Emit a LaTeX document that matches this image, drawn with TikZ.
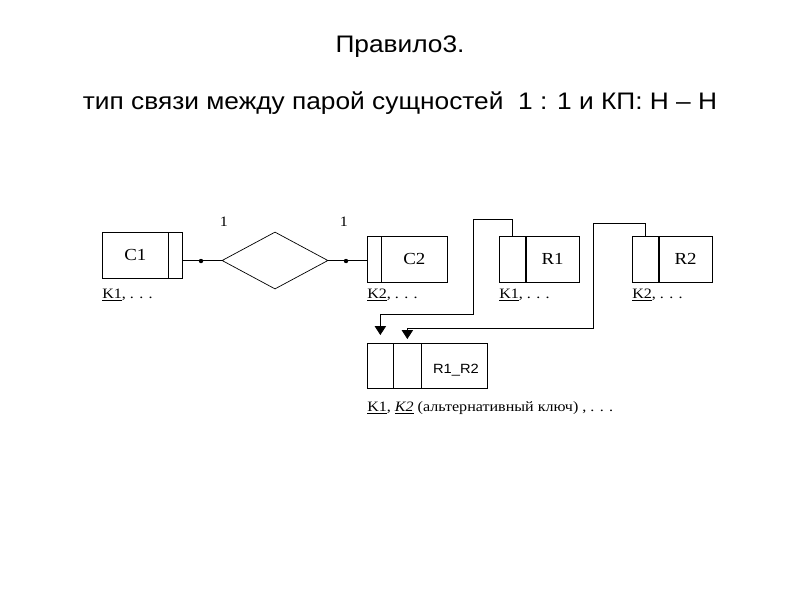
\documentclass[tikz,border=0pt]{standalone}
\usepackage{fontspec}
\setmainfont[FakeStretch=1.12]{Liberation Serif}
\newfontfamily\headfont[FakeStretch=1.1]{Liberation Sans}
\usetikzlibrary{arrows.meta,shapes.geometric}
\tikzstyle{Part}=[draw=black, shape=rectangle, inner sep=0pt, anchor=north west, minimum height=1.15cm, line width=0.5pt, font=\fontsize{12}{14}\selectfont]
\tikzstyle{Rel}=[draw=black, shape=diamond, inner sep=0pt, minimum width=2.65cm, minimum height=1.425cm, line width=0.5pt]
\tikzstyle{Dot}=[fill=black, shape=circle, inner sep=0pt, minimum size=0.11cm]
\tikzstyle{Keys}=[anchor=west, inner sep=0pt, font=\fontsize{10.2}{12}\selectfont]
\tikzstyle{Card}=[inner sep=0pt, font=\fontsize{10.2}{12}\selectfont]
\tikzstyle{Head}=[inner sep=0pt, font=\headfont\fontsize{17}{20}\selectfont]
\tikzstyle{wire}=[line width=0.5pt]
\tikzstyle{link}=[line width=0.5pt, -{Triangle[width=0.28cm,length=0.22cm]}]

\begin{document}
\begin{tikzpicture}[x=0.025cm, y=-0.025cm]
	\useasboundingbox (0,0) rectangle (800,600);
	\node [style=Head] (rule) at (400,47) {Правило3.};
	\node [style=Head] (subtitle) at (400,103) {тип связи между парой сущностей\ \ 1 : 1 и КП: Н – Н};

	% entities and the relationship
	\node [style=Part, minimum width=1.65cm] (c1main) at (102,232) {C1};
	\node [style=Part, minimum width=0.35cm] (c1key) at (168,232) {};
	\node [style=Rel] (rel) at (275,260.5) {};
	\node [style=Part, minimum width=0.35cm] (c2key) at (367,236) {};
	\node [style=Part, minimum width=1.65cm] (c2main) at (381,236) {C2};
	\node [style=Part, minimum width=0.66cm] (r1key) at (499,236) {};
	\node [style=Part, minimum width=1.34cm] (r1main) at (525.5,236) {R1};
	\node [style=Part, minimum width=0.66cm] (r2key) at (632,236) {};
	\node [style=Part, minimum width=1.34cm] (r2main) at (658.5,236) {R2};
	\node [style=Part, minimum height=1.125cm, minimum width=0.65cm] (rrkeya) at (367,343) {};
	\node [style=Part, minimum height=1.125cm, minimum width=0.7cm] (rrkeyb) at (393,343) {};
	\node [style=Part, minimum height=1.125cm, minimum width=1.65cm] (rrmain) at (421,343) {};
	\node [inner sep=0pt, font=\headfont\fontsize{9.5}{11}\selectfont] (rrname) at (456,370) {R1\_R2};

	\node [style=Dot] (dotl) at (201,261) {};
	\node [style=Dot] (dotr) at (346,261) {};
	\node [style=Card] (cardl) at (224,222) {1};
	\node [style=Card] (cardr) at (344,222) {1};

	\node [style=Keys] (c1keys) at (102,295) {\underline{K1}, . . .};
	\node [style=Keys] (c2keys) at (367,295) {\underline{K2}, . . .};
	\node [style=Keys] (r1keys) at (499,295) {\underline{K1}, . . .};
	\node [style=Keys] (r2keys) at (632,295) {\underline{K2}, . . .};
	\node [style=Keys] (rrkeys) at (367,408) {\underline{K1}, \underline{\textit{K2}} (альтернативный ключ) , . . .};

	\draw [style=wire] (rel.west) -- (rel.west -| c1key.east);
	\draw [style=wire] (rel.east) -- (rel.east -| c2key.west);

	% foreign keys
	\coordinate (tipa) at ([yshift=0.2cm]rrkeya.north);
	\coordinate (tipb) at ([yshift=0.1cm]rrkeyb.north);
	\draw [style=link] (r1key.north) -- ++(0,-17) -| (473,314) -| (tipa);
	\draw [style=link] (r2key.north) -- ++(0,-13) -| (593,328) -| (tipb);
\end{tikzpicture}
\end{document}
